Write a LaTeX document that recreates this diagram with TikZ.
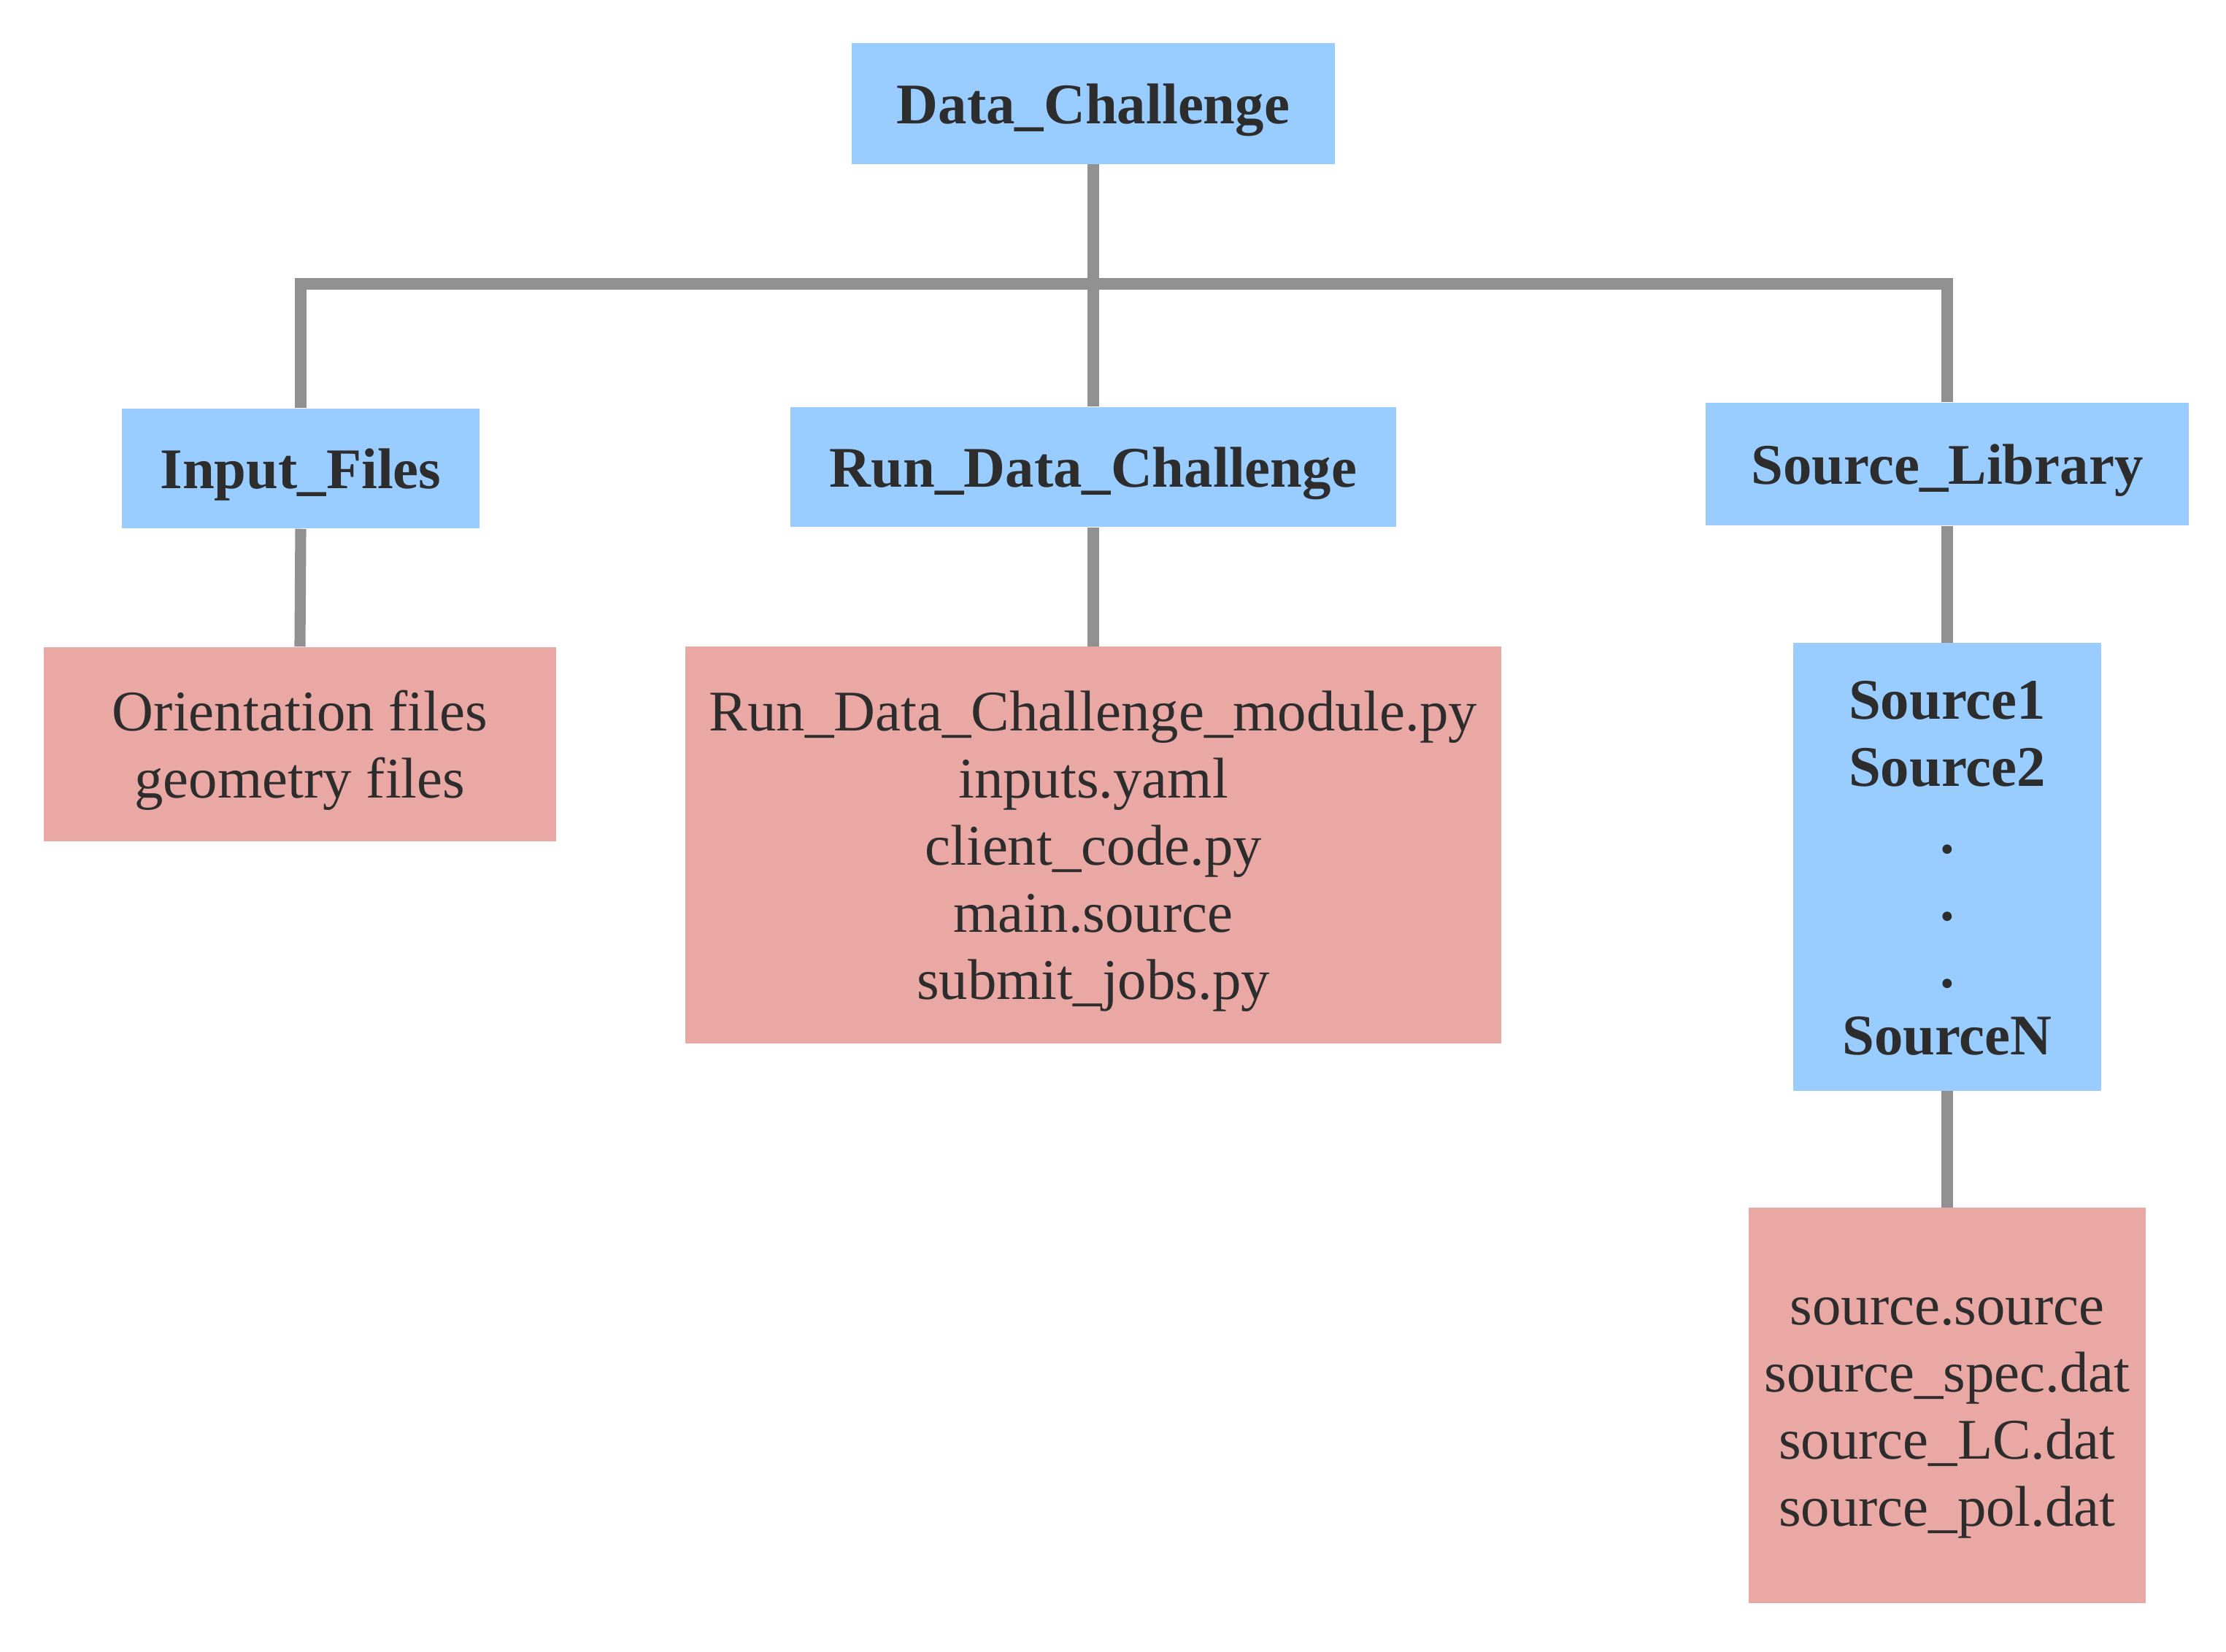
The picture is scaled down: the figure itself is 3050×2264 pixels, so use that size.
\documentclass[tikz,border=0pt]{standalone}
\usepackage{fontspec}
\setmainfont{Liberation Serif}
\definecolor{boxblue}{RGB}{153,204,255}
\definecolor{boxpink}{RGB}{234,168,164}
\definecolor{linegray}{RGB}{145,145,145}
\definecolor{txt}{RGB}{45,45,45}
\newcommand\tstrut{\rule{0pt}{20.9pt}}
\newcommand\bstrut{\rule[-5.3pt]{0pt}{5.3pt}}
\newcommand\fstrut{\rule[-5.3pt]{0pt}{26.2pt}}
\begin{document}
\begin{tikzpicture}[x=0.01cm,y=-0.01cm,
  base/.style={rectangle, inner sep=0pt, text=txt, align=center,
    font=\fontsize{22.4}{26.2}\selectfont},
  bluebox/.style={base, fill=boxblue, font=\fontsize{22.4}{26.2}\selectfont\bfseries},
  pinkbox/.style={base, fill=boxpink},
  conn/.style={draw=linegray, line width=4.3pt, line cap=butt, line join=miter}]
\useasboundingbox (0,0) rectangle (3050,2264);
% nodes
\node[bluebox, minimum width=6.62cm, minimum height=1.65cm] (dc) at (1498,142) {\fstrut Data\_Challenge};
\node[bluebox, minimum width=4.90cm, minimum height=1.64cm] (inp) at (412,642) {\fstrut Input\_Files};
\node[bluebox, minimum width=8.29cm, minimum height=1.64cm] (rdc) at (1498,640) {\fstrut Run\_Data\_Challenge};
\node[bluebox, minimum width=6.61cm, minimum height=1.68cm] (slib) at (2668,636) {\fstrut Source\_Library};
\node[pinkbox, minimum width=7.02cm, minimum height=2.66cm] (ori) at (411,1020) {\tstrut Orientation files\\geometry files\bstrut};
\node[pinkbox, minimum width=11.17cm, minimum height=5.43cm] (mod) at (1498,1158) {\tstrut Run\_Data\_Challenge\_module.py\\inputs.yaml\\client\_code.py\\main.source\\submit\_jobs.py\bstrut};
\node[bluebox, minimum width=4.21cm, minimum height=6.13cm] (srcs) at (2668,1188) {\tstrut Source1\\Source2\\.\\.\\.\\SourceN\bstrut};
\node[pinkbox, minimum width=5.43cm, minimum height=5.41cm] (sfiles) at (2668,1926) {\tstrut source.source\\source\_spec.dat\\source\_LC.dat\\source\_pol.dat\bstrut};
% connectors
\coordinate (bus) at (1498,389);
\draw[conn] (dc.south) -- (bus) -| (inp.north);
\draw[conn] (dc.south) -- (rdc.north);
\draw[conn] (bus) -| (slib.north);
\draw[conn] (inp.south) -- (ori.north);
\draw[conn] (rdc.south) -- (mod.north);
\draw[conn] (slib.south) -- (srcs.north);
\draw[conn] (srcs.south) -- (sfiles.north);
\end{tikzpicture}
\end{document}
